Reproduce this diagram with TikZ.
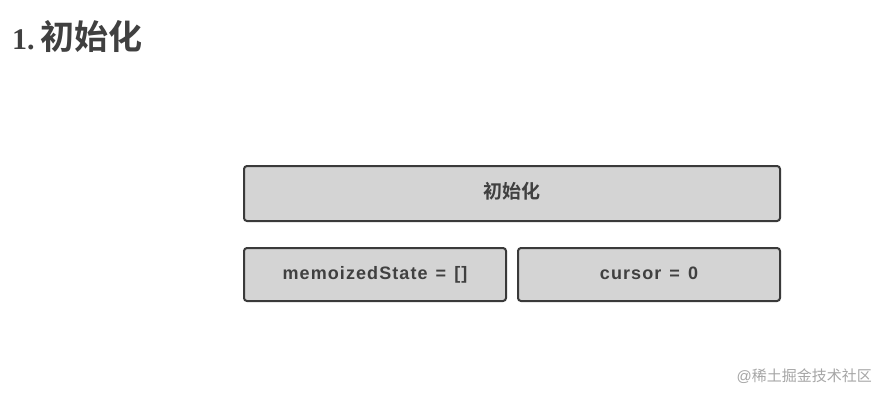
\documentclass[tikz,border=0pt]{standalone}
\usepackage{fontspec}
\setmainfont{Liberation Sans}
\newfontfamily\serifone{Liberation Serif}
\newfontfamily\cjk{Noto Sans CJK SC}
\newfontfamily\cjkb{Noto Sans CJK SC Bold}
\newfontfamily\boxfont{Liberation Sans Bold}[LetterSpace=6]
\definecolor{boxfill}{HTML}{D4D4D4}
\definecolor{boxline}{HTML}{3A3A3A}
\definecolor{txt}{HTML}{404040}
\begin{document}
\begin{tikzpicture}[x=1pt,y=-1pt,
  box/.style={draw=boxline,line width=2pt,fill=boxfill,rounded corners=3pt,text=txt,text height=13pt,text depth=4pt,font=\boxfont\fontsize{18}{20}\selectfont}]
\useasboundingbox[fill=white] (0,0) rectangle (887,400);
\node[anchor=west,text=txt,inner sep=0pt] (title) at (12,36) {{\serifone\fontsize{30}{32}\selectfont\bfseries 1.}\hspace{6pt}{\cjkb\fontsize{34}{36}\selectfont 初始化}};
\node[box,minimum width=536pt,minimum height=55pt] (init) at (512,193.5) {{\cjkb\fontsize{19}{20}\selectfont 初始化}};
\node[box,minimum width=262pt,minimum height=53pt] (mem) at (375,274.5) {memoizedState\hspace{2pt} = \hspace{2pt}[]};
\node[box,minimum width=262pt,minimum height=53pt] (cur) at (649,274.5) {cursor\hspace{2pt} = \hspace{2pt}0};
\node[anchor=east,text=gray!70,inner sep=0pt] (wm) at (872,376) {\fontsize{15}{17}\selectfont @{\cjk 稀土掘金技术社区}};
\end{tikzpicture}
\end{document}
